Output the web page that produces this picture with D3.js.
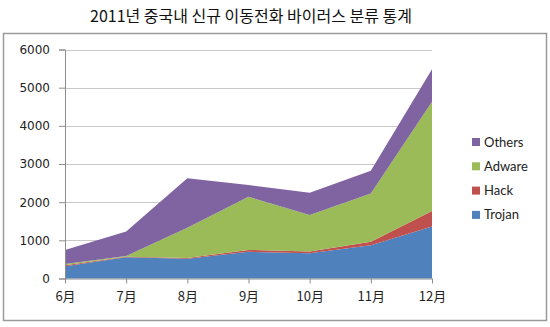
<!DOCTYPE html>
<html>
<head>
<meta charset="utf-8">
<script src="https://cdn.jsdelivr.net/npm/d3@7"></script>
<style>
  html, body { margin: 0; padding: 0; background: #fff; }
  svg { display: block; }
</style>
</head>
<body>
<svg id="chart" width="550" height="327"></svg>
<script>
// Monthly counts of new mobile malware in China, 2011, by type
const months = ["6月", "7月", "8月", "9月", "10月", "11月", "12月"];
const trojan = [320, 560, 520, 700, 660, 870, 1360];
const hack   = [30, 10, 20, 50, 45, 90, 410];
const adware = [30, 20, 790, 1390, 960, 1270, 2860];
const others = [370, 640, 1295, 310, 585, 590, 850];
const seriesNames = ["Trojan", "Hack", "Adware", "Others"];
const seriesColors = ["#4F81BD", "#C0504D", "#9BBB59", "#8064A2"];
const yTicks = [0, 1000, 2000, 3000, 4000, 5000, 6000];

const svg = d3.select("#chart");

// title
svg.append("text")
  .attr("x", 251).attr("y", 22)
  .attr("text-anchor", "middle")
  .attr("font-family", "'Noto Sans CJK KR', sans-serif")
  .attr("font-size", 16)
  .attr("fill", "#111")
  .text("2011년 중국내 신규 이동전화 바이러스 분류 통계");

// chart frame
svg.append("rect")
  .attr("x", 3.5).attr("y", 33.5)
  .attr("width", 543).attr("height", 287)
  .attr("fill", "#fff")
  .attr("stroke", "#9a9a9a").attr("stroke-width", 1.5);

const x = d3.scalePoint().domain(months).range([65, 432]);
const y = d3.scaleLinear().domain([0, 6000]).range([278.5, 49.5]);

// gridlines
svg.append("g")
  .selectAll("line")
  .data(yTicks.slice(1))
  .join("line")
  .attr("x1", 65).attr("x2", 432)
  .attr("y1", d => Math.round(y(d)) + 0.5).attr("y2", d => Math.round(y(d)) + 0.5)
  .attr("stroke", "#c8c8c8").attr("stroke-width", 1);

// stacked areas
const table = months.map((m, i) => ({
  month: m, Trojan: trojan[i], Hack: hack[i], Adware: adware[i], Others: others[i]
}));
const stacked = d3.stack().keys(seriesNames)(table);
const area = d3.area()
  .x(d => x(d.data.month))
  .y0(d => y(d[0]))
  .y1(d => y(d[1]));

svg.append("g")
  .selectAll("path")
  .data(stacked)
  .join("path")
  .attr("d", area)
  .attr("fill", (d, i) => seriesColors[i]);

// y axis
const yAxis = d3.axisLeft(y).tickValues(yTicks).tickFormat(d3.format("d"))
  .tickSize(6).tickPadding(9);
const gy = svg.append("g")
  .attr("transform", "translate(65,0)")
  .call(yAxis);
gy.select(".domain").attr("stroke", "#8c8c8c");
gy.selectAll(".tick line").attr("stroke", "#8c8c8c");
gy.selectAll(".tick text")
  .attr("font-family", "'DejaVu Sans', sans-serif")
  .attr("font-size", 12)
  .attr("fill", "#222");

// x axis
const xAxis = d3.axisBottom(x).tickSize(5).tickPadding(8);
const gx = svg.append("g")
  .attr("transform", "translate(0,278.5)")
  .call(xAxis);
gx.select(".domain").attr("stroke", "#8c8c8c").attr("d", "M65,0.5H432");
gx.selectAll(".tick line").attr("stroke", "#8c8c8c");
gx.selectAll(".tick text")
  .attr("font-family", "'Noto Sans CJK KR', sans-serif")
  .attr("font-size", 13)
  .attr("fill", "#222");

// legend (top-down: Others, Adware, Hack, Trojan)
const legendItems = seriesNames.map((n, i) => ({ name: n, color: seriesColors[i] })).reverse();
const lg = svg.append("g")
  .selectAll("g")
  .data(legendItems)
  .join("g")
  .attr("transform", (d, i) => `translate(472,${142 + i * 24.3})`);
lg.append("rect")
  .attr("x", 0).attr("y", -4)
  .attr("width", 8).attr("height", 8)
  .attr("fill", d => d.color);
lg.append("text")
  .attr("x", 12).attr("y", 0)
  .attr("dy", "0.35em")
  .attr("font-family", "Lato, sans-serif")
  .attr("font-size", 13)
  .attr("fill", "#222")
  .text(d => d.name);
</script>
</body>
</html>
